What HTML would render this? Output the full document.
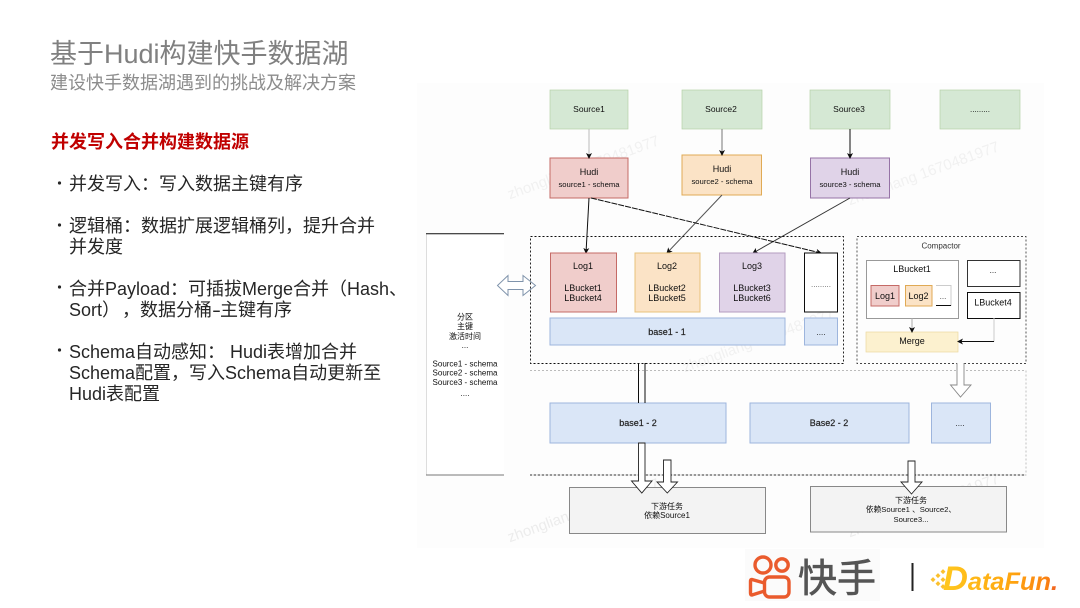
<!DOCTYPE html>
<html lang="zh">
<head>
<meta charset="utf-8">
<style>
html,body{margin:0;padding:0;background:#fff;}
svg{display:block;}
text{font-family:"Liberation Sans","Noto Sans CJK SC",sans-serif;}
.d{font-size:8px;fill:#111;text-anchor:middle;}
.m{font-size:9px;fill:#111;text-anchor:middle;}
.s{font-size:7.700px;fill:#111;text-anchor:middle;}
.h{font-size:9px;fill:#222;stroke:#222;stroke-width:.2px;text-anchor:middle;}
</style>
</head>
<body>
<svg width="1080" height="608" viewBox="0 0 1080 608" xmlns="http://www.w3.org/2000/svg">
<defs>
<filter id="b" x="-5%" y="-5%" width="110%" height="110%"><feGaussianBlur stdDeviation="0.28"/></filter>
<marker id="a" markerWidth="6" markerHeight="6" refX="5" refY="3" orient="auto" markerUnits="userSpaceOnUse"><path d="M0 0L6 3L0 6L1.5 3Z" fill="#111"/></marker>
<linearGradient id="df" gradientUnits="userSpaceOnUse" x1="943" y1="0" x2="1058" y2="0">
<stop offset="0" stop-color="#ffc81e"/><stop offset=".6" stop-color="#ffa510"/><stop offset=".9" stop-color="#fa8212"/><stop offset="1" stop-color="#ee5a24"/>
</linearGradient>
</defs>
<rect width="1080" height="608" fill="#fff"/>

<text x="50" y="63" font-size="27" fill="#808080">基于Hudi构建快手数据湖</text>
<text x="50" y="89" font-size="18" fill="#8c8c8c">建设快手数据湖遇到的挑战及解决方案</text>
<text x="51" y="148" font-size="18" font-weight="bold" fill="#c00000">并发写入合并构建数据源</text>
<g font-size="18" fill="#262626">
<circle cx="59.500" cy="183" r="1.600"/>
<text x="69" y="190">并发写入：写入数据主键有序</text>
<circle cx="59.500" cy="225" r="1.600"/>
<text x="69" y="232">逻辑桶：数据扩展逻辑桶列，提升合并</text>
<text x="69" y="253">并发度</text>
<circle cx="59.500" cy="287" r="1.600"/>
<text x="69" y="295" textLength="338" lengthAdjust="spacing">合并Payload：可插拔Merge合并（Hash、</text>
<text x="69" y="316">Sort）<tspan x="122">，</tspan><tspan x="140">数据分桶</tspan><tspan x="212" textLength="9" lengthAdjust="spacingAndGlyphs">-</tspan><tspan x="220">主键有序</tspan></text>
<circle cx="59.500" cy="350" r="1.600"/>
<text x="69" y="358">Schema自动感知： Hudi表增加合并</text>
<text x="69" y="379">Schema配置，写入Schema自动更新至</text>
<text x="69" y="400">Hudi表配置</text>
</g>

<g filter="url(#b)">
<rect x="417" y="83" width="627" height="465" fill="#fdfdfd"/>
<g font-size="15" fill="#f1f1f1" text-anchor="middle">
<text transform="translate(585,172) rotate(-20)">zhongliang 1670481977</text>
<text transform="translate(925,178) rotate(-20)">zhongliang 1670481977</text>
<text transform="translate(585,515) rotate(-20)" fill="#ececec">zhongliang 1670481977</text>
<text transform="translate(925,510) rotate(-20)" fill="#ececec">zhongliang 1670481977</text>
<text transform="translate(760,345) rotate(-20)">zhongliang 1670481977</text>
</g>

<!-- sources -->
<g fill="#d5e8d4" stroke="#b5d0a8" stroke-width=".7">
<rect x="550" y="90" width="78" height="39"/><rect x="682" y="90" width="80" height="39"/>
<rect x="810" y="90" width="80" height="39"/><rect x="940" y="90" width="80" height="39"/>
</g>
<text class="d" style="font-size:8.500px" x="589" y="112">Source1</text><text class="d" style="font-size:8.500px" x="721" y="112">Source2</text>
<text class="d" style="font-size:8.500px" x="849" y="112">Source3</text><text class="d" x="980" y="112">.........</text>

<!-- hudi -->
<rect x="550" y="158" width="78" height="40" fill="#f0cdcb" stroke="#c56a66"/>
<rect x="682" y="155" width="79.500" height="40" fill="#fbe3c6" stroke="#e0aa55"/>
<rect x="810.500" y="158" width="79" height="40" fill="#e0d3e8" stroke="#9673a6"/>
<text class="m" x="589" y="175">Hudi</text><text class="s" x="589" y="187">source1 - schema</text>
<text class="m" x="722" y="172">Hudi</text><text class="s" x="722" y="184">source2 - schema</text>
<text class="m" x="850" y="175">Hudi</text><text class="s" x="850" y="187">source3 - schema</text>

<!-- connectors -->
<g fill="none">
<line x1="589" y1="129" x2="589" y2="158" stroke="#bbb" stroke-width="1" marker-end="url(#a)"/>
<line x1="722" y1="129" x2="722" y2="155" stroke="#777" stroke-width="1" marker-end="url(#a)"/>
<line x1="850" y1="129" x2="850" y2="158" stroke="#111" stroke-width="1" marker-end="url(#a)"/>
<line x1="589" y1="198" x2="586" y2="253" stroke="#111" stroke-width="1" marker-end="url(#a)"/>
<line x1="722" y1="195" x2="667" y2="253" stroke="#555" stroke-width="1" marker-end="url(#a)"/>
<line x1="850" y1="198" x2="753" y2="253" stroke="#333" stroke-width="1" marker-end="url(#a)"/>
<line x1="591" y1="198" x2="821" y2="253" stroke="#111" stroke-width="1" stroke-dasharray="6 1" marker-end="url(#a)"/>
</g>

<!-- left panel -->
<rect x="426" y="234" width="78" height="241" fill="#fff"/>
<line x1="426.500" y1="234" x2="426.500" y2="475" stroke="#ddd"/>
<line x1="426" y1="233.700" x2="504" y2="233.700" stroke="#111" stroke-width="1"/>
<line x1="426" y1="475" x2="504" y2="475" stroke="#777" stroke-width="1"/>
<text class="d" x="465" y="319.500">分区</text>
<text class="d" x="465" y="329">主键</text>
<text class="d" x="465" y="339">激活时间</text>
<text class="d" x="465" y="348">...</text>
<text class="d" x="465" y="366.500">Source1 - schema</text>
<text class="d" x="465" y="375.500">Source2 - schema</text>
<text class="d" x="465" y="385">Source3 - schema</text>
<text class="d" x="465" y="396">....</text>
<path d="M497.500 285.500L508 275.500V281.500H523V275.500L535.500 285.500L523 295.500V289.500H508V295.500Z" fill="#fff" stroke="#7f93ab" stroke-width="1"/>

<!-- dashed containers -->
<rect x="530.500" y="236.500" width="313" height="127" fill="none" stroke="#111" stroke-width=".9" stroke-dasharray="2 2"/>
<rect x="857" y="236.500" width="169" height="127" fill="none" stroke="#444" stroke-width=".9" stroke-dasharray="2 2"/>
<path d="M530 370.500H1026V475H530" fill="none" stroke="#bbb" stroke-width=".9" stroke-dasharray="2 2"/>
<line x1="530" y1="475" x2="1026" y2="475" stroke="#333" stroke-width=".9" stroke-dasharray="2 2"/>

<!-- logs -->
<rect x="550.500" y="253" width="66" height="59" fill="#f0cdcb" stroke="#c56a66"/>
<rect x="635" y="253" width="65" height="59" fill="#fbe3c6" stroke="#e8c27a"/>
<rect x="719.500" y="253" width="65.500" height="59" fill="#e0d3e8" stroke="#b39cc0"/>
<rect x="804.500" y="253" width="33" height="59" fill="#fff" stroke="#111"/>
<text class="m" x="583" y="269">Log1</text><text class="m" x="583" y="291">LBucket1</text><text class="m" x="583" y="301">LBucket4</text>
<text class="m" x="667" y="269">Log2</text><text class="m" x="667" y="291">LBucket2</text><text class="m" x="667" y="301">LBucket5</text>
<text class="m" x="752" y="269">Log3</text><text class="m" x="752" y="291">LBucket3</text><text class="m" x="752" y="301">LBucket6</text>
<text class="d" x="821" y="287" style="fill:#666">.........</text>

<!-- base -->
<g fill="#dae6f7" stroke="#9db5dd" stroke-width="1">
<rect x="550" y="318" width="235" height="27"/><rect x="804.500" y="318" width="33" height="27"/>
<rect x="550" y="403" width="176" height="40"/><rect x="750" y="403" width="159" height="40"/>
<rect x="931.500" y="403" width="59" height="40"/>
</g>
<text class="h" x="667" y="335">base1 - 1</text>
<text class="d" x="821" y="335">....</text>
<text class="h" x="638" y="426">base1 - 2</text>
<text class="h" x="829" y="426">Base2 - 2</text>
<text class="d" x="960" y="426">....</text>

<!-- compactor -->
<text class="d" x="941" y="248.500" style="fill:#333">Compactor</text>
<rect x="866.500" y="260.500" width="92" height="58" fill="#fff" stroke="#999" stroke-width="1"/>
<rect x="967.500" y="260.500" width="52.500" height="26" fill="#fff" stroke="#333"/>
<rect x="967.500" y="292.500" width="52.500" height="26" fill="#fff" stroke="#111"/>
<rect x="871" y="285.500" width="28" height="20.500" fill="#f0cdcb" stroke="#c56a66"/>
<rect x="905.500" y="285.500" width="26.500" height="20.500" fill="#fbe3c6" stroke="#e0aa55"/>
<path d="M936 285.500H951V305.500H936" fill="#fff" stroke="#ccc"/>
<line x1="936" y1="305.500" x2="951" y2="305.500" stroke="#111"/>
<text class="m" x="912" y="272">LBucket1</text>
<text class="d" x="993" y="273">...</text>
<text class="m" x="993" y="305.500">LBucket4</text>
<text class="m" x="885" y="299">Log1</text>
<text class="m" x="918.500" y="299">Log2</text>
<text class="d" x="943" y="299" style="fill:#444">...</text>
<rect x="866" y="332" width="92" height="20" fill="#fcf1cf" stroke="#ecd9a0" stroke-width=".7"/>
<text class="m" x="912" y="344">Merge</text>
<line x1="912" y1="318" x2="912" y2="332" stroke="#aaa" marker-end="url(#a)"/>
<path d="M994 318V341.500" fill="none" stroke="#ccc"/>
<line x1="994" y1="341.500" x2="958" y2="341.500" stroke="#111" marker-end="url(#a)"/>

<!-- downstream boxes -->
<rect x="569.500" y="487.500" width="196" height="46" fill="#f3f3f3" stroke="#888" stroke-width="1"/>
<rect x="810.500" y="486.500" width="196" height="45.500" fill="#f3f3f3" stroke="#888" stroke-width="1"/>
<text class="d" x="667" y="509">下游任务</text>
<text class="d" x="667" y="518">依赖Source1</text>
<text class="d" x="911" y="503">下游任务</text>
<text class="s" x="911" y="512">依赖Source1 、Source2、</text>
<text class="s" x="911" y="522">Source3...</text>

<!-- hollow arrows -->
<path d="M638.500 363V403M645 363V403" fill="none" stroke="#111" stroke-width="1"/>
<path d="M638.500 443V481H631.500L641.800 493L652 481H645V443Z" fill="#fff" stroke="#222" stroke-width=".9"/>
<path d="M663.500 460H671V482H677.500L667.300 493L657 482H663.500Z" fill="#fff" stroke="#222" stroke-width=".9"/>
<path d="M957 363V385H950.500L960.500 397L971 385H964V363" fill="#fff" stroke="#888" stroke-width=".9"/>
<path d="M908 461H915V482H922L911.500 494L901 482H908Z" fill="#fff" stroke="#222" stroke-width=".9"/>
</g>

<!-- logos -->
<rect x="745" y="549" width="135" height="52" fill="#fbfbfb"/>
<g fill="none" stroke="#ea5b2d" stroke-width="3.400">
<circle cx="763" cy="565" r="8"/>
<circle cx="782" cy="565" r="6.200"/>
<rect x="764.500" y="577" width="24.500" height="20" rx="5"/>
<path d="M764.500 583L752 579.500Q750.500 579.500 750.500 581.500V593Q750.500 595 752 595L764.500 591" stroke-linejoin="round"/>
</g>
<text x="798" y="592" font-size="39" fill="#555" stroke="#555" stroke-width=".6">快手</text>
<rect x="911.500" y="563" width="2" height="28" fill="#222"/>
<g fill="#fbc02d">
<rect x="931" y="578" width="3.500" height="3.500" transform="rotate(45 933 580)"/>
<rect x="936" y="574" width="3.500" height="3.500" transform="rotate(45 938 576)"/>
<rect x="936" y="582" width="3.500" height="3.500" transform="rotate(45 938 584)"/>
<rect x="941" y="570" width="3.500" height="3.500" transform="rotate(45 943 572)"/>
<rect x="941" y="578" width="3.500" height="3.500" transform="rotate(45 943 580)"/>
<rect x="941" y="585" width="3.500" height="3.500" transform="rotate(45 943 587)"/>
</g>
<text x="943" y="590" font-size="25" font-weight="bold" font-style="italic" fill="url(#df)" textLength="115" lengthAdjust="spacingAndGlyphs"><tspan font-size="34">D</tspan>ataFun.</text>
</svg>
</body>
</html>
